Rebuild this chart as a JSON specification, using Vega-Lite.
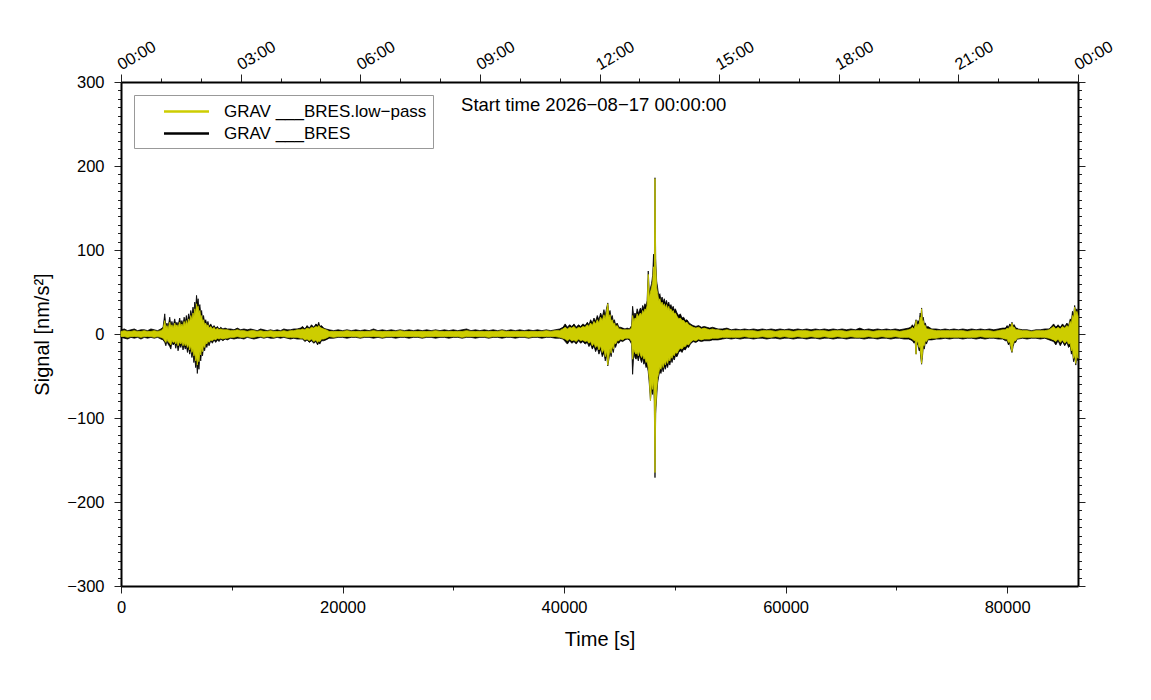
{
  "$schema": "https://vega.github.io/schema/vega-lite/v6.json",
  "width": 957,
  "height": 504,
  "autosize": {"type": "none"},
  "padding": {"left": 121, "top": 82, "right": 73, "bottom": 114},
  "config": {
    "font": "Liberation Sans",
    "view": {"stroke": null},
    "axis": {
      "grid": false,
      "domainColor": "#000",
      "domainWidth": 2,
      "tickColor": "#222",
      "tickWidth": 1,
      "labelFont": "Liberation Sans",
      "labelFontSize": 16.5,
      "labelColor": "#000",
      "titleFont": "Liberation Sans",
      "titleFontSize": 20,
      "titleFontWeight": "normal",
      "titleColor": "#000",
      "labelOverlap": false,
      "labelFlush": false,
      "labelBound": false
    },
    "legend": {
      "orient": "none",
      "legendX": 13,
      "legendY": 13,
      "padding": 6,
      "rowPadding": 3,
      "strokeColor": "#999",
      "fillColor": "white",
      "labelFont": "Liberation Sans",
      "labelFontSize": 17,
      "labelColor": "#000",
      "labelLimit": 0,
      "symbolType": "M-2.5,0H2.5",
      "symbolSize": 324,
      "symbolStrokeWidth": 2.5,
      "symbolOffset": 36,
      "labelOffset": 27
    }
  },
  "data": {
    "values": [
      {"t": 0, "bh": 5, "bl": -4, "yh": 3, "yl": -3},
      {"t": 300, "bh": 6, "bl": -5, "yh": 4, "yl": -3},
      {"t": 600, "bh": 4, "bl": -6, "yh": 3, "yl": -4},
      {"t": 900, "bh": 5, "bl": -4, "yh": 3, "yl": -3},
      {"t": 1200, "bh": 6, "bl": -5, "yh": 4, "yl": -3},
      {"t": 1500, "bh": 4, "bl": -4, "yh": 3, "yl": -3},
      {"t": 1800, "bh": 5, "bl": -6, "yh": 3, "yl": -4},
      {"t": 2100, "bh": 5, "bl": -4, "yh": 4, "yl": -3},
      {"t": 2400, "bh": 4, "bl": -5, "yh": 3, "yl": -3},
      {"t": 2700, "bh": 6, "bl": -4, "yh": 3, "yl": -3},
      {"t": 3000, "bh": 5, "bl": -5, "yh": 4, "yl": -4},
      {"t": 3300, "bh": 4, "bl": -4, "yh": 3, "yl": -3},
      {"t": 3600, "bh": 6, "bl": -6, "yh": 4, "yl": -4},
      {"t": 3800, "bh": 8, "bl": -7, "yh": 6, "yl": -5},
      {"t": 3950, "bh": 24, "bl": -10, "yh": 16, "yl": -8},
      {"t": 4050, "bh": 9, "bl": -14, "yh": 7, "yl": -10},
      {"t": 4150, "bh": 13, "bl": -8, "yh": 10, "yl": -6},
      {"t": 4250, "bh": 8, "bl": -12, "yh": 6, "yl": -9},
      {"t": 4400, "bh": 20, "bl": -15, "yh": 14, "yl": -11},
      {"t": 4500, "bh": 10, "bl": -18, "yh": 8, "yl": -13},
      {"t": 4600, "bh": 15, "bl": -9, "yh": 11, "yl": -7},
      {"t": 4700, "bh": 9, "bl": -13, "yh": 7, "yl": -10},
      {"t": 4850, "bh": 18, "bl": -11, "yh": 13, "yl": -9},
      {"t": 4950, "bh": 11, "bl": -17, "yh": 9, "yl": -12},
      {"t": 5050, "bh": 14, "bl": -10, "yh": 11, "yl": -8},
      {"t": 5150, "bh": 10, "bl": -20, "yh": 8, "yl": -14},
      {"t": 5300, "bh": 19, "bl": -12, "yh": 14, "yl": -9},
      {"t": 5400, "bh": 12, "bl": -16, "yh": 9, "yl": -12},
      {"t": 5500, "bh": 16, "bl": -11, "yh": 12, "yl": -9},
      {"t": 5600, "bh": 11, "bl": -19, "yh": 9, "yl": -14},
      {"t": 5700, "bh": 20, "bl": -13, "yh": 15, "yl": -10},
      {"t": 5800, "bh": 13, "bl": -18, "yh": 10, "yl": -14},
      {"t": 5900, "bh": 22, "bl": -14, "yh": 16, "yl": -11},
      {"t": 6000, "bh": 14, "bl": -22, "yh": 11, "yl": -16},
      {"t": 6100, "bh": 24, "bl": -16, "yh": 18, "yl": -12},
      {"t": 6200, "bh": 18, "bl": -24, "yh": 14, "yl": -19},
      {"t": 6300, "bh": 28, "bl": -18, "yh": 22, "yl": -14},
      {"t": 6400, "bh": 21, "bl": -28, "yh": 17, "yl": -22},
      {"t": 6500, "bh": 32, "bl": -22, "yh": 25, "yl": -18},
      {"t": 6580, "bh": 24, "bl": -34, "yh": 20, "yl": -26},
      {"t": 6660, "bh": 38, "bl": -27, "yh": 30, "yl": -22},
      {"t": 6740, "bh": 30, "bl": -40, "yh": 24, "yl": -32},
      {"t": 6820, "bh": 46, "bl": -33, "yh": 36, "yl": -27},
      {"t": 6890, "bh": 36, "bl": -47, "yh": 30, "yl": -37},
      {"t": 6960, "bh": 42, "bl": -35, "yh": 33, "yl": -28},
      {"t": 7040, "bh": 30, "bl": -42, "yh": 25, "yl": -33},
      {"t": 7120, "bh": 35, "bl": -26, "yh": 28, "yl": -21},
      {"t": 7200, "bh": 24, "bl": -32, "yh": 19, "yl": -25},
      {"t": 7280, "bh": 28, "bl": -20, "yh": 22, "yl": -16},
      {"t": 7360, "bh": 18, "bl": -26, "yh": 15, "yl": -21},
      {"t": 7450, "bh": 22, "bl": -16, "yh": 17, "yl": -13},
      {"t": 7550, "bh": 14, "bl": -20, "yh": 11, "yl": -16},
      {"t": 7650, "bh": 17, "bl": -12, "yh": 13, "yl": -10},
      {"t": 7750, "bh": 11, "bl": -16, "yh": 9, "yl": -12},
      {"t": 7850, "bh": 15, "bl": -10, "yh": 11, "yl": -8},
      {"t": 7950, "bh": 9, "bl": -14, "yh": 7, "yl": -10},
      {"t": 8100, "bh": 12, "bl": -8, "yh": 9, "yl": -7},
      {"t": 8250, "bh": 8, "bl": -11, "yh": 6, "yl": -8},
      {"t": 8400, "bh": 10, "bl": -7, "yh": 8, "yl": -6},
      {"t": 8550, "bh": 7, "bl": -10, "yh": 5, "yl": -7},
      {"t": 8700, "bh": 9, "bl": -7, "yh": 7, "yl": -5},
      {"t": 8850, "bh": 6, "bl": -9, "yh": 5, "yl": -6},
      {"t": 9000, "bh": 8, "bl": -6, "yh": 6, "yl": -5},
      {"t": 9200, "bh": 6, "bl": -8, "yh": 5, "yl": -6},
      {"t": 9400, "bh": 7, "bl": -6, "yh": 5, "yl": -5},
      {"t": 9600, "bh": 6, "bl": -7, "yh": 5, "yl": -5},
      {"t": 9900, "bh": 6, "bl": -5, "yh": 4, "yl": -4},
      {"t": 10200, "bh": 5, "bl": -6, "yh": 4, "yl": -4},
      {"t": 10500, "bh": 7, "bl": -5, "yh": 5, "yl": -3},
      {"t": 10800, "bh": 5, "bl": -5, "yh": 4, "yl": -4},
      {"t": 11100, "bh": 6, "bl": -6, "yh": 4, "yl": -4},
      {"t": 11400, "bh": 5, "bl": -4, "yh": 3, "yl": -3},
      {"t": 11700, "bh": 6, "bl": -5, "yh": 4, "yl": -4},
      {"t": 12000, "bh": 5, "bl": -6, "yh": 4, "yl": -4},
      {"t": 12300, "bh": 4, "bl": -5, "yh": 3, "yl": -3},
      {"t": 12600, "bh": 6, "bl": -4, "yh": 4, "yl": -3},
      {"t": 12900, "bh": 5, "bl": -5, "yh": 3, "yl": -4},
      {"t": 13200, "bh": 4, "bl": -4, "yh": 3, "yl": -3},
      {"t": 13500, "bh": 5, "bl": -5, "yh": 4, "yl": -3},
      {"t": 13800, "bh": 4, "bl": -5, "yh": 3, "yl": -4},
      {"t": 14100, "bh": 5, "bl": -4, "yh": 3, "yl": -3},
      {"t": 14400, "bh": 4, "bl": -5, "yh": 3, "yl": -3},
      {"t": 14700, "bh": 6, "bl": -4, "yh": 4, "yl": -3},
      {"t": 15000, "bh": 5, "bl": -5, "yh": 3, "yl": -4},
      {"t": 15300, "bh": 5, "bl": -6, "yh": 4, "yl": -4},
      {"t": 15600, "bh": 6, "bl": -5, "yh": 4, "yl": -4},
      {"t": 15900, "bh": 6, "bl": -6, "yh": 5, "yl": -4},
      {"t": 16200, "bh": 7, "bl": -6, "yh": 5, "yl": -5},
      {"t": 16400, "bh": 9, "bl": -6, "yh": 6, "yl": -5},
      {"t": 16600, "bh": 6, "bl": -9, "yh": 5, "yl": -7},
      {"t": 16800, "bh": 10, "bl": -7, "yh": 7, "yl": -6},
      {"t": 17000, "bh": 7, "bl": -10, "yh": 6, "yl": -8},
      {"t": 17200, "bh": 11, "bl": -8, "yh": 8, "yl": -6},
      {"t": 17400, "bh": 8, "bl": -11, "yh": 7, "yl": -9},
      {"t": 17600, "bh": 12, "bl": -9, "yh": 9, "yl": -7},
      {"t": 17750, "bh": 10, "bl": -13, "yh": 8, "yl": -10},
      {"t": 17850, "bh": 14, "bl": -10, "yh": 10, "yl": -8},
      {"t": 17950, "bh": 9, "bl": -12, "yh": 8, "yl": -9},
      {"t": 18100, "bh": 10, "bl": -8, "yh": 7, "yl": -6},
      {"t": 18300, "bh": 7, "bl": -8, "yh": 6, "yl": -6},
      {"t": 18500, "bh": 6, "bl": -7, "yh": 5, "yl": -5},
      {"t": 18800, "bh": 5, "bl": -5, "yh": 3, "yl": -3},
      {"t": 19200, "bh": 4, "bl": -5, "yh": 3, "yl": -4},
      {"t": 19600, "bh": 5, "bl": -4, "yh": 3, "yl": -3},
      {"t": 20000, "bh": 4, "bl": -4, "yh": 3, "yl": -3},
      {"t": 20400, "bh": 5, "bl": -5, "yh": 4, "yl": -3},
      {"t": 20800, "bh": 4, "bl": -4, "yh": 3, "yl": -3},
      {"t": 21200, "bh": 5, "bl": -4, "yh": 3, "yl": -3},
      {"t": 21600, "bh": 4, "bl": -5, "yh": 3, "yl": -4},
      {"t": 22000, "bh": 5, "bl": -4, "yh": 3, "yl": -3},
      {"t": 22400, "bh": 4, "bl": -4, "yh": 3, "yl": -3},
      {"t": 22800, "bh": 6, "bl": -5, "yh": 4, "yl": -3},
      {"t": 23200, "bh": 4, "bl": -4, "yh": 3, "yl": -3},
      {"t": 23600, "bh": 5, "bl": -5, "yh": 3, "yl": -4},
      {"t": 24000, "bh": 4, "bl": -4, "yh": 3, "yl": -3},
      {"t": 24400, "bh": 5, "bl": -4, "yh": 3, "yl": -3},
      {"t": 24800, "bh": 4, "bl": -5, "yh": 3, "yl": -3},
      {"t": 25200, "bh": 5, "bl": -4, "yh": 4, "yl": -3},
      {"t": 25600, "bh": 4, "bl": -4, "yh": 3, "yl": -3},
      {"t": 26000, "bh": 5, "bl": -5, "yh": 3, "yl": -3},
      {"t": 26400, "bh": 4, "bl": -4, "yh": 3, "yl": -3},
      {"t": 26800, "bh": 5, "bl": -4, "yh": 3, "yl": -3},
      {"t": 27200, "bh": 4, "bl": -5, "yh": 3, "yl": -4},
      {"t": 27600, "bh": 5, "bl": -4, "yh": 3, "yl": -3},
      {"t": 28000, "bh": 4, "bl": -4, "yh": 3, "yl": -3},
      {"t": 28400, "bh": 5, "bl": -5, "yh": 4, "yl": -3},
      {"t": 28800, "bh": 4, "bl": -4, "yh": 3, "yl": -3},
      {"t": 29200, "bh": 5, "bl": -4, "yh": 3, "yl": -3},
      {"t": 29600, "bh": 4, "bl": -5, "yh": 3, "yl": -3},
      {"t": 30000, "bh": 5, "bl": -4, "yh": 3, "yl": -3},
      {"t": 30400, "bh": 4, "bl": -4, "yh": 3, "yl": -3},
      {"t": 30800, "bh": 5, "bl": -5, "yh": 3, "yl": -4},
      {"t": 31200, "bh": 6, "bl": -4, "yh": 4, "yl": -3},
      {"t": 31600, "bh": 4, "bl": -4, "yh": 3, "yl": -3},
      {"t": 32000, "bh": 5, "bl": -5, "yh": 3, "yl": -3},
      {"t": 32400, "bh": 4, "bl": -4, "yh": 3, "yl": -3},
      {"t": 32800, "bh": 5, "bl": -4, "yh": 3, "yl": -3},
      {"t": 33200, "bh": 4, "bl": -5, "yh": 3, "yl": -4},
      {"t": 33600, "bh": 5, "bl": -4, "yh": 3, "yl": -3},
      {"t": 34000, "bh": 4, "bl": -4, "yh": 3, "yl": -3},
      {"t": 34400, "bh": 5, "bl": -5, "yh": 4, "yl": -3},
      {"t": 34800, "bh": 4, "bl": -4, "yh": 3, "yl": -3},
      {"t": 35200, "bh": 5, "bl": -4, "yh": 3, "yl": -3},
      {"t": 35600, "bh": 4, "bl": -5, "yh": 3, "yl": -3},
      {"t": 36000, "bh": 5, "bl": -4, "yh": 3, "yl": -3},
      {"t": 36400, "bh": 4, "bl": -4, "yh": 3, "yl": -3},
      {"t": 36800, "bh": 5, "bl": -5, "yh": 3, "yl": -4},
      {"t": 37200, "bh": 4, "bl": -4, "yh": 3, "yl": -3},
      {"t": 37600, "bh": 5, "bl": -4, "yh": 3, "yl": -3},
      {"t": 38000, "bh": 4, "bl": -5, "yh": 3, "yl": -3},
      {"t": 38400, "bh": 5, "bl": -4, "yh": 4, "yl": -3},
      {"t": 38800, "bh": 4, "bl": -4, "yh": 3, "yl": -3},
      {"t": 39200, "bh": 5, "bl": -5, "yh": 4, "yl": -3},
      {"t": 39600, "bh": 6, "bl": -5, "yh": 4, "yl": -4},
      {"t": 39900, "bh": 8, "bl": -6, "yh": 6, "yl": -5},
      {"t": 40100, "bh": 12, "bl": -9, "yh": 8, "yl": -6},
      {"t": 40300, "bh": 8, "bl": -12, "yh": 6, "yl": -8},
      {"t": 40500, "bh": 11, "bl": -8, "yh": 8, "yl": -6},
      {"t": 40700, "bh": 9, "bl": -11, "yh": 7, "yl": -8},
      {"t": 40900, "bh": 12, "bl": -9, "yh": 9, "yl": -7},
      {"t": 41100, "bh": 8, "bl": -12, "yh": 6, "yl": -9},
      {"t": 41300, "bh": 11, "bl": -8, "yh": 8, "yl": -6},
      {"t": 41500, "bh": 9, "bl": -11, "yh": 7, "yl": -8},
      {"t": 41700, "bh": 12, "bl": -9, "yh": 9, "yl": -7},
      {"t": 41900, "bh": 10, "bl": -12, "yh": 8, "yl": -9},
      {"t": 42100, "bh": 14, "bl": -10, "yh": 11, "yl": -8},
      {"t": 42250, "bh": 11, "bl": -15, "yh": 9, "yl": -11},
      {"t": 42400, "bh": 17, "bl": -12, "yh": 13, "yl": -9},
      {"t": 42550, "bh": 13, "bl": -18, "yh": 10, "yl": -14},
      {"t": 42700, "bh": 19, "bl": -14, "yh": 15, "yl": -11},
      {"t": 42850, "bh": 15, "bl": -21, "yh": 12, "yl": -16},
      {"t": 43000, "bh": 22, "bl": -16, "yh": 17, "yl": -13},
      {"t": 43150, "bh": 17, "bl": -24, "yh": 13, "yl": -19},
      {"t": 43300, "bh": 25, "bl": -18, "yh": 20, "yl": -14},
      {"t": 43450, "bh": 20, "bl": -27, "yh": 16, "yl": -22},
      {"t": 43600, "bh": 29, "bl": -22, "yh": 23, "yl": -18},
      {"t": 43720, "bh": 22, "bl": -32, "yh": 18, "yl": -27},
      {"t": 43840, "bh": 31, "bl": -25, "yh": 27, "yl": -20},
      {"t": 43950, "bh": 37, "bl": -38, "yh": 36, "yl": -37},
      {"t": 44050, "bh": 24, "bl": -30, "yh": 20, "yl": -26},
      {"t": 44150, "bh": 28, "bl": -21, "yh": 23, "yl": -17},
      {"t": 44250, "bh": 19, "bl": -27, "yh": 15, "yl": -23},
      {"t": 44350, "bh": 22, "bl": -17, "yh": 17, "yl": -14},
      {"t": 44450, "bh": 15, "bl": -22, "yh": 12, "yl": -18},
      {"t": 44550, "bh": 17, "bl": -13, "yh": 13, "yl": -10},
      {"t": 44650, "bh": 11, "bl": -16, "yh": 9, "yl": -12},
      {"t": 44800, "bh": 13, "bl": -10, "yh": 10, "yl": -8},
      {"t": 44950, "bh": 8, "bl": -11, "yh": 6, "yl": -8},
      {"t": 45100, "bh": 8, "bl": -8, "yh": 6, "yl": -6},
      {"t": 45300, "bh": 7, "bl": -9, "yh": 5, "yl": -7},
      {"t": 45500, "bh": 6, "bl": -7, "yh": 5, "yl": -5},
      {"t": 45700, "bh": 7, "bl": -6, "yh": 5, "yl": -5},
      {"t": 45900, "bh": 6, "bl": -7, "yh": 5, "yl": -5},
      {"t": 46100, "bh": 10, "bl": -12, "yh": 7, "yl": -9},
      {"t": 46190, "bh": 33, "bl": -48, "yh": 22, "yl": -30},
      {"t": 46300, "bh": 20, "bl": -22, "yh": 15, "yl": -18},
      {"t": 46400, "bh": 25, "bl": -28, "yh": 19, "yl": -22},
      {"t": 46500, "bh": 22, "bl": -30, "yh": 18, "yl": -24},
      {"t": 46600, "bh": 30, "bl": -26, "yh": 24, "yl": -21},
      {"t": 46700, "bh": 24, "bl": -32, "yh": 20, "yl": -26},
      {"t": 46800, "bh": 28, "bl": -25, "yh": 23, "yl": -20},
      {"t": 46900, "bh": 31, "bl": -30, "yh": 25, "yl": -25},
      {"t": 47000, "bh": 27, "bl": -34, "yh": 22, "yl": -28},
      {"t": 47100, "bh": 34, "bl": -28, "yh": 28, "yl": -24},
      {"t": 47200, "bh": 30, "bl": -36, "yh": 25, "yl": -30},
      {"t": 47300, "bh": 36, "bl": -33, "yh": 30, "yl": -28},
      {"t": 47400, "bh": 33, "bl": -40, "yh": 28, "yl": -34},
      {"t": 47500, "bh": 40, "bl": -38, "yh": 34, "yl": -32},
      {"t": 47600, "bh": 75, "bl": -45, "yh": 71, "yl": -40},
      {"t": 47700, "bh": 48, "bl": -60, "yh": 42, "yl": -55},
      {"t": 47800, "bh": 55, "bl": -79, "yh": 50, "yl": -79},
      {"t": 47900, "bh": 60, "bl": -64, "yh": 55, "yl": -58},
      {"t": 48000, "bh": 70, "bl": -72, "yh": 62, "yl": -66},
      {"t": 48080, "bh": 95, "bl": -60, "yh": 80, "yl": -55},
      {"t": 48150, "bh": 75, "bl": -80, "yh": 65, "yl": -75},
      {"t": 48210, "bh": 186, "bl": -171, "yh": 185, "yl": -165},
      {"t": 48270, "bh": 90, "bl": -95, "yh": 85, "yl": -90},
      {"t": 48360, "bh": 63, "bl": -75, "yh": 55, "yl": -68},
      {"t": 48450, "bh": 55, "bl": -58, "yh": 48, "yl": -52},
      {"t": 48550, "bh": 45, "bl": -50, "yh": 40, "yl": -46},
      {"t": 48650, "bh": 48, "bl": -44, "yh": 42, "yl": -40},
      {"t": 48750, "bh": 40, "bl": -47, "yh": 35, "yl": -42},
      {"t": 48850, "bh": 44, "bl": -40, "yh": 38, "yl": -35},
      {"t": 48950, "bh": 38, "bl": -45, "yh": 33, "yl": -40},
      {"t": 49050, "bh": 42, "bl": -38, "yh": 36, "yl": -33},
      {"t": 49150, "bh": 36, "bl": -42, "yh": 31, "yl": -37},
      {"t": 49250, "bh": 40, "bl": -36, "yh": 35, "yl": -31},
      {"t": 49350, "bh": 34, "bl": -40, "yh": 29, "yl": -35},
      {"t": 49450, "bh": 38, "bl": -33, "yh": 33, "yl": -29},
      {"t": 49550, "bh": 32, "bl": -37, "yh": 28, "yl": -32},
      {"t": 49650, "bh": 35, "bl": -30, "yh": 30, "yl": -26},
      {"t": 49750, "bh": 30, "bl": -34, "yh": 26, "yl": -29},
      {"t": 49850, "bh": 33, "bl": -28, "yh": 28, "yl": -24},
      {"t": 49950, "bh": 28, "bl": -31, "yh": 24, "yl": -26},
      {"t": 50050, "bh": 30, "bl": -26, "yh": 25, "yl": -22},
      {"t": 50200, "bh": 25, "bl": -27, "yh": 21, "yl": -23},
      {"t": 50350, "bh": 22, "bl": -22, "yh": 18, "yl": -19},
      {"t": 50500, "bh": 24, "bl": -20, "yh": 19, "yl": -17},
      {"t": 50650, "bh": 19, "bl": -22, "yh": 16, "yl": -18},
      {"t": 50800, "bh": 20, "bl": -18, "yh": 16, "yl": -15},
      {"t": 50950, "bh": 16, "bl": -19, "yh": 13, "yl": -15},
      {"t": 51100, "bh": 17, "bl": -15, "yh": 14, "yl": -12},
      {"t": 51250, "bh": 14, "bl": -16, "yh": 11, "yl": -13},
      {"t": 51400, "bh": 12, "bl": -12, "yh": 10, "yl": -10},
      {"t": 51650, "bh": 10, "bl": -9, "yh": 8, "yl": -7},
      {"t": 51900, "bh": 9, "bl": -10, "yh": 7, "yl": -8},
      {"t": 52150, "bh": 10, "bl": -8, "yh": 8, "yl": -6},
      {"t": 52400, "bh": 8, "bl": -9, "yh": 6, "yl": -7},
      {"t": 52650, "bh": 9, "bl": -8, "yh": 7, "yl": -6},
      {"t": 52900, "bh": 8, "bl": -8, "yh": 6, "yl": -6},
      {"t": 53150, "bh": 7, "bl": -8, "yh": 5, "yl": -6},
      {"t": 53400, "bh": 8, "bl": -7, "yh": 6, "yl": -5},
      {"t": 53650, "bh": 7, "bl": -7, "yh": 5, "yl": -5},
      {"t": 53900, "bh": 6, "bl": -7, "yh": 5, "yl": -5},
      {"t": 54300, "bh": 6, "bl": -6, "yh": 4, "yl": -4},
      {"t": 54700, "bh": 7, "bl": -5, "yh": 5, "yl": -4},
      {"t": 55100, "bh": 5, "bl": -6, "yh": 4, "yl": -4},
      {"t": 55500, "bh": 6, "bl": -5, "yh": 4, "yl": -4},
      {"t": 55900, "bh": 5, "bl": -6, "yh": 4, "yl": -4},
      {"t": 56300, "bh": 6, "bl": -5, "yh": 4, "yl": -3},
      {"t": 56700, "bh": 5, "bl": -5, "yh": 4, "yl": -4},
      {"t": 57100, "bh": 6, "bl": -6, "yh": 4, "yl": -4},
      {"t": 57500, "bh": 5, "bl": -5, "yh": 3, "yl": -4},
      {"t": 57900, "bh": 6, "bl": -5, "yh": 4, "yl": -3},
      {"t": 58300, "bh": 5, "bl": -6, "yh": 4, "yl": -4},
      {"t": 58700, "bh": 6, "bl": -5, "yh": 4, "yl": -4},
      {"t": 59100, "bh": 5, "bl": -5, "yh": 3, "yl": -3},
      {"t": 59500, "bh": 6, "bl": -6, "yh": 4, "yl": -4},
      {"t": 59900, "bh": 5, "bl": -5, "yh": 4, "yl": -3},
      {"t": 60300, "bh": 6, "bl": -5, "yh": 4, "yl": -4},
      {"t": 60700, "bh": 5, "bl": -6, "yh": 3, "yl": -4},
      {"t": 61100, "bh": 6, "bl": -5, "yh": 4, "yl": -3},
      {"t": 61500, "bh": 5, "bl": -5, "yh": 4, "yl": -4},
      {"t": 61900, "bh": 6, "bl": -6, "yh": 4, "yl": -4},
      {"t": 62300, "bh": 5, "bl": -5, "yh": 3, "yl": -3},
      {"t": 62700, "bh": 6, "bl": -5, "yh": 4, "yl": -4},
      {"t": 63100, "bh": 5, "bl": -6, "yh": 4, "yl": -4},
      {"t": 63500, "bh": 6, "bl": -5, "yh": 4, "yl": -3},
      {"t": 63900, "bh": 5, "bl": -5, "yh": 3, "yl": -4},
      {"t": 64300, "bh": 6, "bl": -6, "yh": 4, "yl": -4},
      {"t": 64700, "bh": 5, "bl": -5, "yh": 4, "yl": -3},
      {"t": 65100, "bh": 6, "bl": -5, "yh": 4, "yl": -4},
      {"t": 65500, "bh": 5, "bl": -6, "yh": 3, "yl": -4},
      {"t": 65900, "bh": 6, "bl": -5, "yh": 4, "yl": -3},
      {"t": 66300, "bh": 5, "bl": -5, "yh": 4, "yl": -4},
      {"t": 66700, "bh": 7, "bl": -5, "yh": 4, "yl": -4},
      {"t": 67100, "bh": 5, "bl": -6, "yh": 4, "yl": -4},
      {"t": 67500, "bh": 6, "bl": -5, "yh": 4, "yl": -3},
      {"t": 67900, "bh": 5, "bl": -5, "yh": 3, "yl": -4},
      {"t": 68300, "bh": 6, "bl": -6, "yh": 4, "yl": -4},
      {"t": 68700, "bh": 5, "bl": -5, "yh": 4, "yl": -3},
      {"t": 69100, "bh": 6, "bl": -5, "yh": 4, "yl": -4},
      {"t": 69500, "bh": 5, "bl": -6, "yh": 4, "yl": -4},
      {"t": 69900, "bh": 6, "bl": -5, "yh": 4, "yl": -3},
      {"t": 70300, "bh": 5, "bl": -5, "yh": 3, "yl": -4},
      {"t": 70700, "bh": 6, "bl": -6, "yh": 4, "yl": -4},
      {"t": 71100, "bh": 7, "bl": -6, "yh": 5, "yl": -4},
      {"t": 71300, "bh": 8, "bl": -7, "yh": 6, "yl": -5},
      {"t": 71450, "bh": 11, "bl": -8, "yh": 8, "yl": -6},
      {"t": 71600, "bh": 8, "bl": -11, "yh": 6, "yl": -8},
      {"t": 71700, "bh": 13, "bl": -9, "yh": 10, "yl": -7},
      {"t": 71780, "bh": 17, "bl": -24, "yh": 16, "yl": -24},
      {"t": 71850, "bh": 10, "bl": -13, "yh": 8, "yl": -10},
      {"t": 71950, "bh": 16, "bl": -12, "yh": 12, "yl": -9},
      {"t": 72050, "bh": 14, "bl": -20, "yh": 11, "yl": -16},
      {"t": 72150, "bh": 25, "bl": -19, "yh": 20, "yl": -15},
      {"t": 72220, "bh": 20, "bl": -30, "yh": 17, "yl": -26},
      {"t": 72280, "bh": 31, "bl": -36, "yh": 30, "yl": -35},
      {"t": 72350, "bh": 18, "bl": -28, "yh": 15, "yl": -24},
      {"t": 72430, "bh": 20, "bl": -16, "yh": 16, "yl": -13},
      {"t": 72520, "bh": 12, "bl": -18, "yh": 10, "yl": -14},
      {"t": 72620, "bh": 13, "bl": -10, "yh": 10, "yl": -8},
      {"t": 72720, "bh": 8, "bl": -12, "yh": 6, "yl": -9},
      {"t": 72850, "bh": 9, "bl": -7, "yh": 6, "yl": -6},
      {"t": 73200, "bh": 6, "bl": -7, "yh": 5, "yl": -5},
      {"t": 73600, "bh": 6, "bl": -6, "yh": 4, "yl": -5},
      {"t": 74000, "bh": 5, "bl": -6, "yh": 4, "yl": -4},
      {"t": 74400, "bh": 6, "bl": -5, "yh": 4, "yl": -4},
      {"t": 74800, "bh": 5, "bl": -6, "yh": 4, "yl": -4},
      {"t": 75200, "bh": 6, "bl": -5, "yh": 4, "yl": -4},
      {"t": 75600, "bh": 5, "bl": -5, "yh": 4, "yl": -4},
      {"t": 76000, "bh": 6, "bl": -6, "yh": 4, "yl": -4},
      {"t": 76400, "bh": 5, "bl": -5, "yh": 3, "yl": -4},
      {"t": 76800, "bh": 6, "bl": -5, "yh": 4, "yl": -4},
      {"t": 77200, "bh": 5, "bl": -6, "yh": 4, "yl": -4},
      {"t": 77600, "bh": 6, "bl": -5, "yh": 4, "yl": -3},
      {"t": 78000, "bh": 5, "bl": -6, "yh": 4, "yl": -4},
      {"t": 78400, "bh": 6, "bl": -5, "yh": 4, "yl": -4},
      {"t": 78800, "bh": 5, "bl": -5, "yh": 3, "yl": -4},
      {"t": 79200, "bh": 6, "bl": -6, "yh": 4, "yl": -4},
      {"t": 79600, "bh": 7, "bl": -6, "yh": 5, "yl": -5},
      {"t": 79850, "bh": 7, "bl": -8, "yh": 5, "yl": -6},
      {"t": 80000, "bh": 10, "bl": -8, "yh": 7, "yl": -6},
      {"t": 80120, "bh": 8, "bl": -13, "yh": 6, "yl": -10},
      {"t": 80240, "bh": 12, "bl": -11, "yh": 9, "yl": -9},
      {"t": 80340, "bh": 10, "bl": -18, "yh": 8, "yl": -15},
      {"t": 80440, "bh": 14, "bl": -22, "yh": 13, "yl": -21},
      {"t": 80540, "bh": 10, "bl": -15, "yh": 8, "yl": -12},
      {"t": 80650, "bh": 11, "bl": -10, "yh": 8, "yl": -8},
      {"t": 80780, "bh": 7, "bl": -10, "yh": 5, "yl": -8},
      {"t": 80900, "bh": 7, "bl": -6, "yh": 5, "yl": -5},
      {"t": 81000, "bh": 6, "bl": -6, "yh": 5, "yl": -5},
      {"t": 81400, "bh": 5, "bl": -5, "yh": 4, "yl": -4},
      {"t": 81800, "bh": 5, "bl": -6, "yh": 4, "yl": -4},
      {"t": 82200, "bh": 4, "bl": -5, "yh": 3, "yl": -4},
      {"t": 82600, "bh": 5, "bl": -5, "yh": 4, "yl": -4},
      {"t": 83000, "bh": 5, "bl": -6, "yh": 4, "yl": -4},
      {"t": 83400, "bh": 6, "bl": -5, "yh": 4, "yl": -4},
      {"t": 83800, "bh": 6, "bl": -7, "yh": 5, "yl": -5},
      {"t": 84000, "bh": 9, "bl": -8, "yh": 7, "yl": -6},
      {"t": 84200, "bh": 12, "bl": -9, "yh": 9, "yl": -7},
      {"t": 84400, "bh": 8, "bl": -13, "yh": 6, "yl": -9},
      {"t": 84600, "bh": 11, "bl": -8, "yh": 8, "yl": -6},
      {"t": 84800, "bh": 8, "bl": -14, "yh": 6, "yl": -10},
      {"t": 85000, "bh": 12, "bl": -9, "yh": 9, "yl": -7},
      {"t": 85200, "bh": 9, "bl": -14, "yh": 7, "yl": -11},
      {"t": 85400, "bh": 13, "bl": -10, "yh": 10, "yl": -8},
      {"t": 85550, "bh": 10, "bl": -16, "yh": 8, "yl": -12},
      {"t": 85700, "bh": 18, "bl": -14, "yh": 15, "yl": -11},
      {"t": 85800, "bh": 15, "bl": -24, "yh": 12, "yl": -20},
      {"t": 85900, "bh": 27, "bl": -20, "yh": 22, "yl": -17},
      {"t": 86000, "bh": 22, "bl": -33, "yh": 19, "yl": -29},
      {"t": 86100, "bh": 34, "bl": -28, "yh": 32, "yl": -25},
      {"t": 86200, "bh": 26, "bl": -37, "yh": 23, "yl": -35},
      {"t": 86300, "bh": 30, "bl": -26, "yh": 27, "yl": -23},
      {"t": 86400, "bh": 24, "bl": -32, "yh": 21, "yl": -29}
    ]
  },
  "layer": [
    {
      "mark": {"type": "area", "strokeWidth": 0.8, "strokeJoin": "miter"},
      "encoding": {
        "x": {
          "field": "t",
          "type": "quantitative",
          "scale": {"domain": [0, 86400], "nice": false, "zero": false},
          "axis": {
            "orient": "bottom",
            "title": "Time [s]",
            "values": [0, 10000, 20000, 30000, 40000, 50000, 60000, 70000, 80000],
            "format": "d",
            "labelExpr": "datum.value % 20000 === 0 ? datum.label : ''",
            "tickSize": {"condition": {"test": "datum.value % 20000 === 0", "value": 7}, "value": 4},
            "labelPadding": 6,
            "titlePadding": 14
          }
        },
        "y": {
          "field": "bl",
          "type": "quantitative",
          "stack": null,
          "scale": {"domain": [-300, 300], "nice": false},
          "axis": {
            "orient": "left",
            "title": "Signal [nm/s²]",
            "values": [-300, -290, -280, -270, -260, -250, -240, -230, -220, -210, -200, -190, -180, -170, -160, -150, -140, -130, -120, -110, -100, -90, -80, -70, -60, -50, -40, -30, -20, -10, 0, 10, 20, 30, 40, 50, 60, 70, 80, 90, 100, 110, 120, 130, 140, 150, 160, 170, 180, 190, 200, 210, 220, 230, 240, 250, 260, 270, 280, 290, 300],
            "format": "d",
            "labelExpr": "datum.value % 100 === 0 ? datum.label : ''",
            "tickSize": {"condition": {"test": "datum.value % 100 === 0", "value": 7}, "value": 3.5},
            "labelPadding": 10,
            "titlePadding": 14
          }
        },
        "y2": {"field": "bh"},
        "color": {
          "datum": "GRAV ___BRES",
          "type": "nominal",
          "scale": {"domain": ["GRAV ___BRES.low−pass", "GRAV ___BRES"], "range": ["#cdcd00", "#000000"]},
          "legend": {"title": null}
        },
        "stroke": {
          "datum": "GRAV ___BRES",
          "type": "nominal",
          "scale": {"domain": ["GRAV ___BRES.low−pass", "GRAV ___BRES"], "range": ["#cdcd00", "#000000"]},
          "legend": {"title": null}
        }
      }
    },
    {
      "mark": {"type": "area", "strokeWidth": 0.8, "strokeJoin": "miter"},
      "encoding": {
        "x": {
          "field": "t",
          "type": "quantitative",
          "axis": {
            "orient": "top",
            "title": null,
            "values": [0, 3600, 7200, 10800, 14400, 18000, 21600, 25200, 28800, 32400, 36000, 39600, 43200, 46800, 50400, 54000, 57600, 61200, 64800, 68400, 72000, 75600, 79200, 82800, 86400],
            "labelExpr": "datum.value % 10800 === 0 ? utcFormat(datum.value * 1000, '%H:%M') : ''",
            "tickSize": {"condition": {"test": "datum.value % 10800 === 0", "value": 8}, "value": 4},
            "labelAngle": -30,
            "labelAlign": "left",
            "labelBaseline": "alphabetic",
            "labelPadding": 4
          }
        },
        "y": {
          "field": "yl",
          "type": "quantitative",
          "stack": null,
          "axis": {
            "orient": "right",
            "title": null,
            "labels": false,
            "values": [-300, -290, -280, -270, -260, -250, -240, -230, -220, -210, -200, -190, -180, -170, -160, -150, -140, -130, -120, -110, -100, -90, -80, -70, -60, -50, -40, -30, -20, -10, 0, 10, 20, 30, 40, 50, 60, 70, 80, 90, 100, 110, 120, 130, 140, 150, 160, 170, 180, 190, 200, 210, 220, 230, 240, 250, 260, 270, 280, 290, 300],
            "tickSize": {"condition": {"test": "datum.value % 100 === 0", "value": 7}, "value": 3.5}
          }
        },
        "y2": {"field": "yh"},
        "color": {"datum": "GRAV ___BRES.low−pass", "type": "nominal"},
        "stroke": {"datum": "GRAV ___BRES.low−pass", "type": "nominal"}
      }
    },
    {
      "data": {"values": [{"label": "Start time 2026−08−17 00:00:00"}]},
      "mark": {"type": "text", "align": "left", "baseline": "alphabetic", "fontSize": 18.5, "color": "#000", "font": "Liberation Sans"},
      "encoding": {
        "x": {"datum": 30700, "type": "quantitative", "axis": null},
        "y": {"datum": 265, "type": "quantitative", "axis": null},
        "text": {"field": "label"}
      }
    }
  ],
  "resolve": {"axis": {"x": "independent", "y": "independent"}}
}
